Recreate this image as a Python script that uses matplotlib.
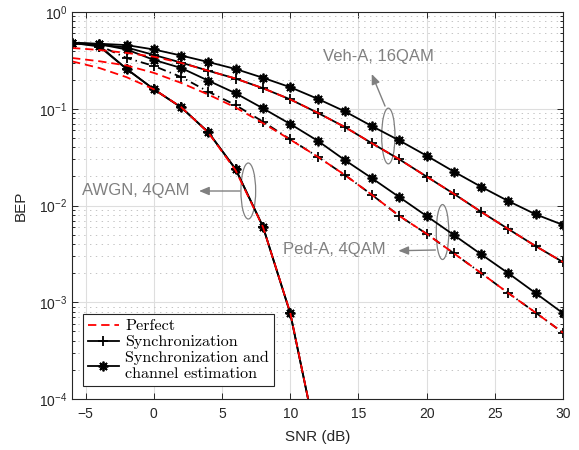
import matplotlib
matplotlib.use('Agg')
import matplotlib.pyplot as plt
from matplotlib.patches import Ellipse
from matplotlib.lines import Line2D

plt.rcParams['font.family'] = ['Liberation Sans', 'DejaVu Sans']
plt.rcParams['mathtext.default'] = 'regular'
plt.rcParams['lines.scale_dashes'] = False

snr = [-6, -4, -2, 0, 2, 4, 6, 8, 10, 12, 14, 16, 18, 20, 22, 24, 26, 28, 30]
snr_awgn = [-6, -4, -2, 0, 2, 4, 6, 8, 10, 12]

# AWGN, 4QAM
awgn_perfect = [0.309, 0.264, 0.212, 0.159, 0.104, 0.0565, 0.0230, 0.0060, 0.00078, 3.4e-5]
awgn_sync = [0.48, 0.44, 0.258, 0.159, 0.1035, 0.057, 0.0237, 0.00604, 0.00077, 3.4e-5]
awgn_chest = [0.48, 0.45, 0.258, 0.159, 0.1035, 0.057, 0.0237, 0.00604, 0.00077, 3.4e-5]

# Ped-A, 4QAM
ped_perfect = [0.335, 0.31, 0.28, 0.235, 0.185, 0.140, 0.103, 0.071, 0.048, 0.032, 0.0207,
               0.01285, 0.0078, 0.0051, 0.0032, 0.0020, 0.00124, 0.00078, 0.000484]
ped_sync = [0.48, 0.45, 0.335, 0.277, 0.213, 0.150, 0.109, 0.0735, 0.0483, 0.032, 0.0207,
            0.01285, 0.0078, 0.0051, 0.0032, 0.0020, 0.00124, 0.00078, 0.000484]
ped_chest = [0.48, 0.465, 0.41, 0.32, 0.264, 0.195, 0.1445, 0.101, 0.0696, 0.0468, 0.0295,
             0.0191, 0.0122, 0.00778, 0.00495, 0.00313, 0.00199, 0.00124, 0.00077]

# Veh-A, 16QAM
veh_perfect = [0.425, 0.405, 0.378, 0.345, 0.298, 0.247, 0.205, 0.163, 0.125, 0.091, 0.0648,
               0.0439, 0.030, 0.0199, 0.0132, 0.0086, 0.0057, 0.0038, 0.0026]
veh_sync = [0.48, 0.46, 0.43, 0.36, 0.30, 0.247, 0.205, 0.163, 0.125, 0.091, 0.0648,
            0.0439, 0.030, 0.0199, 0.0132, 0.0086, 0.0057, 0.0038, 0.0026]
veh_chest = [0.48, 0.47, 0.455, 0.41, 0.355, 0.304, 0.2575, 0.209, 0.167, 0.127, 0.094,
             0.066, 0.047, 0.0327, 0.0224, 0.0156, 0.0111, 0.0081, 0.0063]

dark = '#262626'
gray = '#808080'
star = (8, 2, 0)
red_dash = (6, 3.5)

fig = plt.figure(figsize=(5.79, 4.5), dpi=100)
ax = fig.add_axes([0.1244, 0.1133, 0.848, 0.86])

kw_plus = dict(color='k', lw=1.3, marker='+', ms=7.5, mew=1.3)
kw_star = dict(color='k', lw=1.3, marker=star, ms=7, mew=1.3)
kw_red = dict(color='red', lw=1.3, dashes=red_dash)

# black curves
ax.semilogy(snr_awgn, awgn_chest, **kw_star)
ax.semilogy(snr_awgn, awgn_sync, **kw_plus)
ax.semilogy(snr, ped_chest, **kw_star)
ax.semilogy(snr, ped_sync, dashes=(6, 3, 1, 3), **kw_plus)
ax.semilogy(snr, veh_chest, **kw_star)
ax.semilogy(snr, veh_sync, **kw_plus)

# red perfect curves
ax.semilogy(snr_awgn, awgn_perfect, **kw_red)
ax.semilogy(snr, ped_perfect, **kw_red)
ax.semilogy(snr, veh_perfect, **kw_red)

ax.set_xlim(-6, 30)
ax.set_ylim(1e-4, 1)
ax.set_xticks([-5, 0, 5, 10, 15, 20, 25, 30])
ax.set_xlabel('SNR (dB)', fontsize=11, color=dark, labelpad=6)
ax.set_ylabel('BEP', fontsize=11, color=dark, labelpad=8)

ax.grid(True, which='major', color='#dedede', lw=0.8, ls='-')
ax.grid(True, which='minor', axis='y', color='#c4c4c4', lw=0.7, ls=(0, (1, 3.2)))
ax.set_axisbelow(True)
ax.tick_params(which='both', direction='in', top=True, right=True, colors=dark,
               labelsize=10, width=0.7)
ax.tick_params(which='major', length=4)
ax.tick_params(which='minor', length=2.5)
ax.tick_params(axis='x', which='minor', bottom=False, top=False)
ax.tick_params(axis='x', pad=6)
for s in ax.spines.values():
    s.set_color(dark)
    s.set_linewidth(0.8)

# annotations
tx = ax.transAxes
arrow = dict(arrowstyle='-|>,head_length=0.6,head_width=0.25', color=gray,
             lw=1, shrinkA=0, shrinkB=0)
ax.text(0.624, 0.8845, 'Veh-A, 16QAM', transform=tx, ha='center', va='center',
        fontsize=12, color=gray)
ax.annotate('', xy=(0.6104, 0.8398), xytext=(0.6375, 0.757), xycoords=tx, textcoords=tx,
            arrowprops=arrow)
ax.add_patch(Ellipse((0.6442, 0.6796), 0.0271, 0.1439, transform=tx, fill=False,
                     ec=gray, lw=0.9))

ax.text(0.130, 0.538, 'AWGN, 4QAM', transform=tx, ha='center', va='center',
        fontsize=12, color=gray)
ax.annotate('', xy=(0.2587, 0.5375), xytext=(0.342, 0.5375), xycoords=tx, textcoords=tx,
            arrowprops=arrow)
ax.add_patch(Ellipse((0.359, 0.5375), 0.030, 0.1447, transform=tx, fill=False,
                     ec=gray, lw=0.9))

ax.text(0.535, 0.3868, 'Ped-A, 4QAM', transform=tx, ha='center', va='center',
        fontsize=12, color=gray)
ax.annotate('', xy=(0.6646, 0.3832), xytext=(0.740, 0.385), xycoords=tx, textcoords=tx,
            arrowprops=arrow)
ax.add_patch(Ellipse((0.7546, 0.4315), 0.0255, 0.142, transform=tx, fill=False,
                     ec=gray, lw=0.9))

handles = [
    Line2D([], [], **kw_red),
    Line2D([], [], **kw_plus),
    Line2D([], [], **kw_star),
]
labels = ['Perfect', 'Synchronization', 'Synchronization and\nchannel estimation']
leg = ax.legend(handles, labels, loc='lower left', bbox_to_anchor=(0.023, 0.034),
                borderaxespad=0, fancybox=False, framealpha=1, edgecolor=dark,
                prop={'family': 'cmr10', 'size': 11.6}, labelspacing=0.1,
                handlelength=1.9, handletextpad=0.4, borderpad=0.3)
leg.get_frame().set_linewidth(0.8)

fig.savefig('out.png', dpi=100)
